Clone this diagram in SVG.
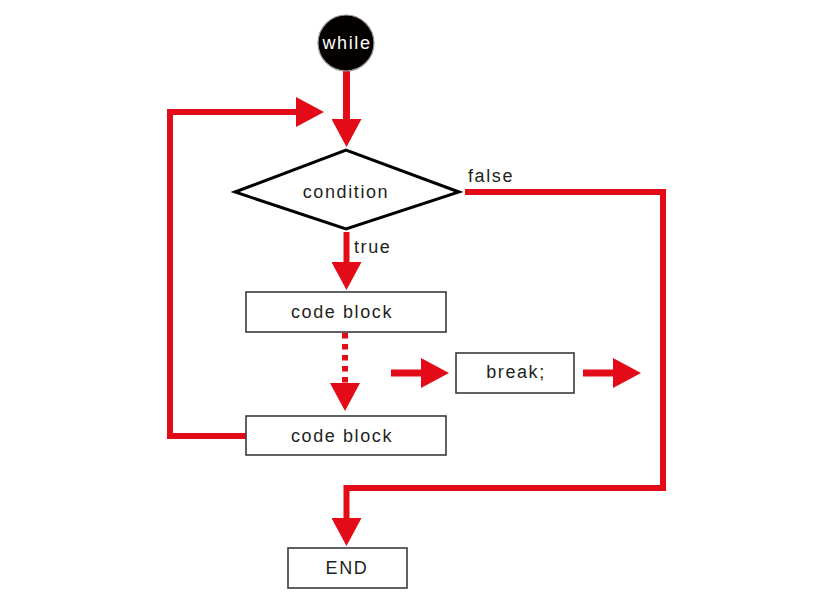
<svg xmlns="http://www.w3.org/2000/svg" width="817" height="611" viewBox="0 0 817 611">
<defs>
<marker id="ah" viewBox="0 0 28 30" refX="0" refY="15" markerWidth="28" markerHeight="30" markerUnits="userSpaceOnUse" orient="auto">
<path d="M0,0 L28,15 L0,30 Z" fill="#e30b17"/>
</marker>
<style>
.t{font-family:"Liberation Sans",Arial,sans-serif;font-size:18px;letter-spacing:1.6px;fill:#231f20}
.c{text-anchor:middle}
.box{fill:#fff;stroke:#3a3a3a;stroke-width:1.6}
.ln{fill:none;stroke:#e30b17;stroke-width:6}
</style>
</defs>
<rect width="817" height="611" fill="#fff"/>
<g id="connectors">
<path class="ln" d="M346.5,71 V119" marker-end="url(#ah)" style="stroke-width:7"/>
<path class="ln" d="M246,436 H170 V112 H296" marker-end="url(#ah)"/>
<path class="ln" d="M465,192 H663 V488 H346.5 V518" marker-end="url(#ah)"/>
<path class="ln" d="M346.5,232 V262" marker-end="url(#ah)"/>
<path class="ln" d="M345,333 V383" stroke-dasharray="5.5 5.5" marker-end="url(#ah)"/>
<path class="ln" d="M391,373 H421" marker-end="url(#ah)" style="stroke-width:7"/>
<path class="ln" d="M583,373 H613" marker-end="url(#ah)" style="stroke-width:7"/>
<text class="t" x="468" y="182">false</text>
<text class="t" x="354" y="253">true</text>
</g>
<g id="while">
<circle cx="346" cy="43" r="28" fill="#040000" stroke="#9a9a9a" stroke-width="1.2"/>
<text class="t c" x="347" y="49" style="fill:#fff">while</text>
</g>
<g id="condition">
<polygon points="235,192 346,150 459,192 346,229" fill="#fff" stroke="#000" stroke-width="3"/>
<text class="t c" x="346" y="198">condition</text>
</g>
<g id="codeblock1">
<rect class="box" x="246" y="292" width="200" height="40"/>
<text class="t c" x="342" y="318">code block</text>
</g>
<g id="codeblock2">
<rect class="box" x="246" y="416" width="200" height="39"/>
<text class="t c" x="342" y="442">code block</text>
</g>
<g id="break">
<rect class="box" x="456" y="353" width="118" height="40"/>
<text class="t c" x="516" y="378">break;</text>
</g>
<g id="end">
<rect class="box" x="288" y="548" width="119" height="40"/>
<text class="t c" x="347" y="574">END</text>
</g>
</svg>
